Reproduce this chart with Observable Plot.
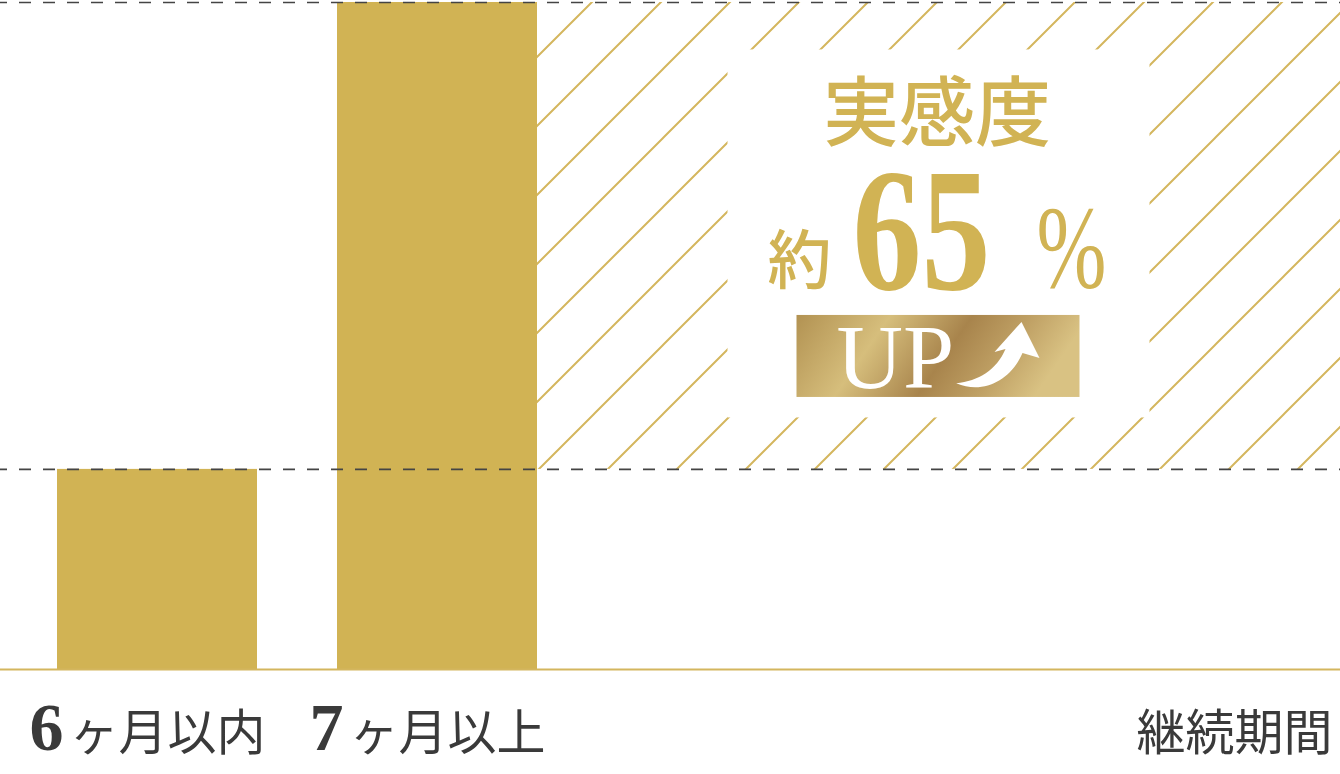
<!DOCTYPE html>
<html>
<head>
<meta charset="utf-8">
<script src="https://cdn.jsdelivr.net/npm/d3@7"></script>
<script src="https://cdn.jsdelivr.net/npm/@observablehq/plot@0.6"></script>
<style>
  html, body { margin: 0; padding: 0; background: #fff; }
  #chart svg { display: block; }
</style>
</head>
<body>
<div id="chart"></div>
<script>
// ---- data ----
const periods = ["6ヶ月以内", "7ヶ月以上"];
const periodDigits = ["6", "7"];
const periodUnits = ["ヶ月以内", "ヶ月以上"];
const values = [30, 100];           // relative bar heights
const axisTitle = "継続期間";
const calloutTitle = "実感度";
const calloutPrefix = "約";
const calloutNumber = "65";
const calloutUnit = "%";
const calloutBadge = "UP";

const data = periods.map((p, i) => ({period: p, value: values[i], digit: periodDigits[i], unit: periodUnits[i]}));

const GOLD = "#D1B354";
const W = 1340, H = 774;

const plot = Plot.plot({
  width: W,
  height: H,
  marginTop: 2,
  marginBottom: 105,
  marginLeft: 0,
  marginRight: 0,
  style: {background: "#fff", overflow: "visible"},
  x: {domain: periods, range: [0, 594], paddingInner: 0.285, paddingOuter: 0.2, axis: null},
  y: {domain: [0, 100], axis: null},
  marks: [
    Plot.barY(data, {x: "period", y: "value", fill: GOLD}),
    Plot.ruleY(values, {stroke: "#444", strokeWidth: 1.6, strokeDasharray: "12,12", strokeDashoffset: 5}),
    Plot.ruleY([0], {stroke: "#D4B65E", strokeWidth: 2}),
    Plot.text(data, {x: "period", text: "digit", frameAnchor: "bottom", dy: 80, dx: -94, lineAnchor: "bottom",
      textAnchor: "end", fontFamily: "Liberation Serif", fontWeight: "bold", fontSize: 68, fill: "#3a3a3a"}),
    Plot.text(data, {x: "period", text: "unit", frameAnchor: "bottom", dy: 80, dx: -88, lineAnchor: "bottom",
      textAnchor: "start", fontFamily: "Noto Sans CJK JP", fontSize: 49, fill: "#3a3a3a"}),
    Plot.text([axisTitle], {frameAnchor: "bottom-right", dy: 80, dx: -8, lineAnchor: "bottom",
      textAnchor: "end", fontFamily: "Noto Sans CJK JP", fontSize: 49, fill: "#3a3a3a"})
  ]
});

document.getElementById("chart").appendChild(plot);

// ---- hatched "gain" region + callout, positioned from the plot's scales ----
const sx = plot.scale("x"), sy = plot.scale("y");
const x0 = sx.apply(periods[1]) + sx.bandwidth;
const yTop = sy.apply(values[1]);
const yLow = sy.apply(values[0]);
const svg = d3.select(plot);

const defs = svg.insert("defs", ":first-child");
const pat = defs.append("pattern")
  .attr("id", "hatch").attr("patternUnits", "userSpaceOnUse")
  .attr("x", 42).attr("y", 0).attr("width", 69).attr("height", 69);
pat.append("path").attr("d", "M-5,5 L5,-5 M0,69 L69,0 M64,74 L74,64")
  .attr("stroke", "#D4B65E").attr("stroke-width", 2).attr("fill", "none");

const grad = defs.append("linearGradient").attr("id", "badgeGrad")
  .attr("x1", "0%").attr("y1", "0%").attr("x2", "100%").attr("y2", "20%");
[[0, "#B29252"], [0.32, "#D6BE7C"], [0.6, "#A8844C"], [0.8, "#BFA064"], [1, "#D9C283"]].forEach(([o, c]) =>
  grad.append("stop").attr("offset", o).attr("stop-color", c));

const g = svg.insert("g", "g");
g.append("rect").attr("x", x0).attr("y", yTop).attr("width", W - x0).attr("height", yLow - yTop)
  .attr("fill", "url(#hatch)");

const cx = (x0 + W) / 2, cy = (yTop + yLow) / 2;
g.append("rect").attr("x", cx - 211).attr("y", cy - 186).attr("width", 422).attr("height", 368).attr("fill", "#fff");

const ann = svg.append("g").attr("transform", `translate(${cx},${cy})`);
ann.append("text").text(calloutTitle).attr("x", -1.5).attr("y", -95.5)
  .attr("text-anchor", "middle").attr("font-family", "Noto Sans CJK JP").attr("font-weight", 500)
  .attr("font-size", 76).attr("fill", GOLD);
ann.append("text").text(calloutPrefix).attr("x", -139).attr("y", 47.5)
  .attr("text-anchor", "middle").attr("font-family", "Noto Sans CJK JP").attr("font-weight", 500)
  .attr("font-size", 64).attr("fill", GOLD);
ann.append("text").text(calloutNumber).attr("x", -86).attr("y", 53.5)
  .attr("text-anchor", "start")
  .attr("font-family", "Liberation Serif").attr("font-weight", "bold")
  .attr("font-size", 176).attr("textLength", 138).attr("lengthAdjust", "spacingAndGlyphs").attr("fill", GOLD);
ann.append("text").text(calloutUnit).attr("x", 98).attr("y", 52)
  .attr("text-anchor", "start")
  .attr("font-family", "Liberation Serif")
  .attr("font-size", 118).attr("textLength", 70).attr("lengthAdjust", "spacingAndGlyphs").attr("fill", GOLD);

const badge = ann.append("g").attr("transform", "translate(-142,79.5)");
badge.append("rect").attr("width", 283).attr("height", 82).attr("fill", "url(#badgeGrad)");
badge.append("text").text(calloutBadge).attr("x", 40).attr("y", 73)
  .attr("text-anchor", "start")
  .attr("font-family", "Liberation Serif").attr("font-size", 92).attr("fill", "#fff");
badge.append("path")
  .attr("d", "M159.7,68.3 C188,80 215,64 226,38 L243,43 L225,7 L198,37 L209,34 C200,55 182,66 159.7,68.3 Z")
  .attr("fill", "#fff");
</script>
</body>
</html>
